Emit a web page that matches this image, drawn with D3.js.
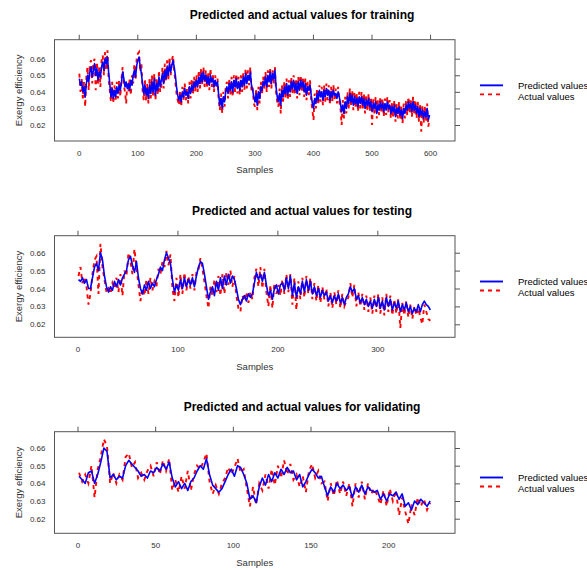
<!DOCTYPE html>
<html><head><meta charset="utf-8">
<script src="https://cdn.jsdelivr.net/npm/d3@7"></script>
<style>body{margin:0;background:#fff}svg{display:block;font-family:"Liberation Sans",Arial,sans-serif}</style>
</head><body>
<svg id="chart" width="587" height="570"></svg>
<script>
// Exergy efficiency values, stored x 1000
const trainPred = [
648,644,646,640,643,637,645,650,646,652,
655,649,653,657,650,654,647,652,649,655,
658,653,660,657,661,652,645,637,642,636,
641,637,643,639,644,641,646,652,648,643,
646,642,645,641,647,644,650,653,649,656,
659,661,655,651,645,639,644,638,642,636,
644,639,646,640,648,638,645,641,649,643,
647,651,645,653,648,655,650,657,652,656,
659,655,650,643,638,635,638,634,640,637,
642,638,640,636,643,639,644,641,646,643,
647,643,649,645,651,646,652,647,650,645,
649,644,650,646,648,643,647,644,646,638,
632,636,630,637,634,640,643,639,645,641,
646,640,647,643,648,642,646,641,647,643,
649,644,651,645,650,647,652,644,641,637,
634,639,632,640,636,643,641,646,644,649,
643,650,646,652,645,651,648,653,643,637,
634,639,632,641,637,643,639,645,638,644,
640,646,642,647,641,645,639,646,641,647,
643,646,640,645,638,643,641,644,638,633,
630,636,633,639,635,641,637,640,635,641,
637,642,638,641,635,640,637,641,638,639,
636,640,637,633,628,632,627,634,630,637,
633,639,634,638,632,637,633,636,631,637,
633,637,632,636,630,635,632,636,631,634,
628,633,630,634,627,632,629,634,630,633,
628,633,629,634,630,632,627,631,628,632,
625,630,627,631,626,629,624,630,627,632,
629,634,630,633,628,634,629,632,627,631,
625,630,626,629,624,628,625,630,623,626];
const trainActual = [
651,640,648,636,646,631,649,655,641,657,
659,645,657,660,641,658,645,655,643,659,
662,650,664,653,665,648,641,634,646,633,
644,635,646,636,647,637,648,655,644,640,
633,646,640,648,638,650,645,657,647,660,
663,664,652,657,641,635,647,634,645,633,
648,636,650,637,651,635,648,638,653,640,
643,655,642,657,646,659,647,661,650,659,
662,653,646,639,635,632,641,631,643,635,
645,635,642,633,646,636,648,638,649,640,
650,640,653,642,654,644,655,643,653,642,
652,641,654,643,651,640,650,642,648,635,
629,639,627,640,631,643,646,636,648,638,
649,637,650,640,651,639,649,638,650,640,
652,641,654,642,653,644,655,641,643,633,
631,642,629,643,633,646,638,649,641,652,
640,653,643,654,642,653,645,655,640,634,
631,642,627,644,634,646,636,648,635,647,
637,649,639,650,638,648,636,649,638,650,
640,649,637,648,635,646,638,647,635,629,
623,639,630,642,632,644,634,643,632,644,
634,645,635,644,632,643,634,644,635,642,
633,643,634,630,620,635,624,637,627,640,
630,642,631,641,629,640,630,639,628,640,
630,640,629,639,627,638,629,639,628,637,
620,636,627,637,624,635,626,637,627,636,
625,636,626,637,627,635,624,634,625,635,
622,633,624,634,623,632,621,633,624,635,
626,637,627,636,625,637,626,635,624,634,
622,633,616,632,621,631,622,633,619,623];
const testPred = [
645,644,646,643,645,640,640,646,652,654,
650,660,656,647,641,638,641,639,644,641,
645,642,646,648,650,656,658,653,649,655,
646,640,637,642,639,644,640,643,641,645,
648,652,650,656,660,657,654,645,638,642,
639,645,640,646,641,645,642,646,641,647,
652,655,654,648,641,634,638,641,636,644,
639,646,640,647,642,648,643,647,645,640,
634,631,634,636,633,637,635,637,643,649,
645,648,644,649,642,636,639,634,640,642,
637,642,643,639,646,640,647,636,643,635,
641,637,644,638,645,639,644,637,641,636,
640,635,639,636,638,633,636,632,636,633,
637,632,635,631,635,637,641,638,640,634,
636,632,635,631,634,630,633,629,634,630,
635,629,633,628,635,630,634,628,632,629,
633,627,631,628,632,627,630,626,629,627,
631,627,631,633,631,630,628];
const testActual = [
647,652,643,646,641,631,637,648,656,658,
637,665,652,645,638,640,637,643,640,646,
638,648,636,650,647,660,655,648,662,652,
642,633,640,636,645,637,646,639,644,641,
651,648,655,652,661,653,659,640,633,646,
635,648,637,649,639,647,640,648,639,649,
650,657,651,644,636,629,641,636,645,638,
647,636,648,637,649,642,650,641,647,636,
629,627,636,633,638,632,638,634,646,651,
641,652,640,651,638,630,642,629,643,637,
642,636,645,637,648,638,648,631,646,628,
644,634,646,635,647,637,646,634,643,633,
642,632,641,634,640,630,638,629,638,631,
639,629,637,630,633,635,643,635,642,630,
638,630,637,628,636,627,635,626,636,627,
637,626,635,625,637,627,636,625,634,626,
634,618,632,625,633,624,631,623,630,625,
629,624,620,631,627,623,622];
const validPred = [
644,642,640,646,647,640,645,652,660,658,
643,645,642,644,643,650,653,651,649,647,
644,645,643,647,646,649,647,651,648,652,
643,638,641,637,640,636,641,643,647,650,
648,654,645,639,637,635,637,641,645,648,
644,650,649,645,640,631,633,629,638,643,
639,645,641,646,643,648,645,649,646,647,
642,645,638,641,645,648,646,643,644,638,
633,638,635,640,637,639,636,638,632,638,
635,639,634,638,636,635,636,631,634,630,
634,633,635,631,634,627,629,625,630,628,
631,629,627,630];
const validActual = [
646,641,645,640,650,632,648,655,665,661,
640,646,640,645,642,655,657,649,652,643,
646,642,647,650,644,652,645,653,647,654,
636,642,635,644,637,647,636,645,650,648,
652,657,641,634,639,634,640,643,649,645,
649,654,646,648,637,627,638,628,640,636,
645,637,648,639,650,643,653,645,651,642,
645,638,644,635,647,651,643,647,640,641,
630,640,633,642,634,641,633,640,627,640,
632,641,631,640,634,637,633,628,636,627,
637,630,636,622,632,624,617,628,622,632,
627,631,625,629];
const trainSamples = d3.range(1, 600, 2);
const testSamples = d3.range(1, 354, 2);
const validSamples = d3.range(1, 228, 2);
const titles = ["Predicted and actual values for training","Predicted and actual values for testing","Predicted and actual values for validating"];
const xTickSets = [[0,100,200,300,400,500,600],[0,100,200,300],[0,50,100,150,200]];
const yTicks = [0.62,0.63,0.64,0.65,0.66];
const seriesNames = ["Predicted values","Actual values"];

// layout
const layout = [
  {top:39.7, bottom:141, xDom:[-41.4,642.6], yDom:[0.61035,0.67146]},
  {top:235.7, bottom:337.3, xDom:[-23,377.7], yDom:[0.61274,0.6695]},
  {top:431.7, bottom:533.3, xDom:[-14.8,243], yDom:[0.61174,0.66922]}
];
const L = 54.5, R = 455;
const data = [
  {s:trainSamples, p:trainPred, a:trainActual},
  {s:testSamples, p:testPred, a:testActual},
  {s:validSamples, p:validPred, a:validActual}
];
const svg = d3.select("#chart");
const boxCol = "#555", txtCol = "#333";

layout.forEach((lay, i) => {
  const x = d3.scaleLinear().domain(lay.xDom).range([L, R]);
  const y = d3.scaleLinear().domain(lay.yDom).range([lay.bottom, lay.top]);
  const g = svg.append("g");
  const cid = "clip" + i;
  svg.append("clipPath").attr("id", cid).append("rect")
    .attr("x", L).attr("y", lay.top).attr("width", R - L).attr("height", lay.bottom - lay.top);

  const d = data[i];
  const pts = (vals) => d.s.map((s, k) => [s, vals[k] / 1000]);
  const line = d3.line().x(v => x(v[0])).y(v => y(v[1]));
  const pl = g.append("g").attr("clip-path", `url(#${cid})`);
  pl.append("path").attr("d", line(pts(d.a))).attr("fill", "none")
    .attr("stroke", "#ff0000").attr("stroke-width", 1.9).attr("stroke-dasharray", "4,4");
  pl.append("path").attr("d", line(pts(d.p))).attr("fill", "none")
    .attr("stroke", "#0000ff").attr("stroke-width", 1.6).attr("stroke-linejoin", "round");

  g.append("rect").attr("x", L).attr("y", lay.top).attr("width", R - L).attr("height", lay.bottom - lay.top)
    .attr("fill", "none").attr("stroke", boxCol).attr("stroke-width", 1);

  const at = g.append("g").attr("transform", `translate(0,${lay.top})`)
    .call(d3.axisTop(x).tickValues(xTickSets[i]).tickSize(5).tickFormat(""));
  at.select(".domain").remove();
  at.selectAll("line").attr("stroke", boxCol);
  const ar = g.append("g").attr("transform", `translate(${R},0)`)
    .call(d3.axisRight(y).tickValues(yTicks).tickSize(5).tickFormat(""));
  ar.select(".domain").remove();
  ar.selectAll("line").attr("stroke", boxCol);
  const ab = g.append("g").attr("transform", `translate(0,${lay.bottom})`)
    .call(d3.axisBottom(x).tickValues(xTickSets[i]).tickSize(0).tickPadding(9.5).tickFormat(d3.format("d")));
  ab.select(".domain").remove();
  ab.selectAll("text").attr("font-size", 8).attr("fill", txtCol).attr("font-family", null);
  const al = g.append("g").attr("transform", `translate(${L},0)`)
    .call(d3.axisLeft(y).tickValues(yTicks).tickSize(0).tickPadding(9).tickFormat(d3.format(".2f")));
  al.select(".domain").remove();
  al.selectAll("text").attr("font-size", 8).attr("fill", txtCol).attr("font-family", null);

  g.append("text").attr("x", 302).attr("y", lay.top - 20.7).attr("text-anchor", "middle")
    .attr("font-weight", "bold").attr("font-size", 12).attr("fill", "#000").text(titles[i]);
  g.append("text").attr("x", (L + R) / 2).attr("y", lay.bottom + 32.4).attr("text-anchor", "middle")
    .attr("font-size", 9.5).attr("fill", txtCol).text("Samples");
  const cy = (lay.top + lay.bottom) / 2;
  g.append("text").attr("transform", `translate(21.5,${cy}) rotate(-90)`).attr("text-anchor", "middle")
    .attr("font-size", 9.5).attr("fill", txtCol).text("Exergy efficiency");

  const lg = g.append("g");
  lg.append("line").attr("x1", 480).attr("x2", 503).attr("y1", cy - 5).attr("y2", cy - 5)
    .attr("stroke", "#0000ff").attr("stroke-width", 1.9);
  lg.append("line").attr("x1", 480).attr("x2", 503).attr("y1", cy + 4).attr("y2", cy + 4)
    .attr("stroke", "#ff0000").attr("stroke-width", 1.9).attr("stroke-dasharray", "4,4");
  lg.append("text").attr("x", 518).attr("y", cy - 5).attr("dy", "0.35em").attr("font-size", 9.5)
    .attr("fill", "#000").text(seriesNames[0]);
  lg.append("text").attr("x", 518).attr("y", cy + 6.3).attr("dy", "0.35em").attr("font-size", 9.5)
    .attr("fill", "#000").text(seriesNames[1]);
});
</script>
</body></html>
